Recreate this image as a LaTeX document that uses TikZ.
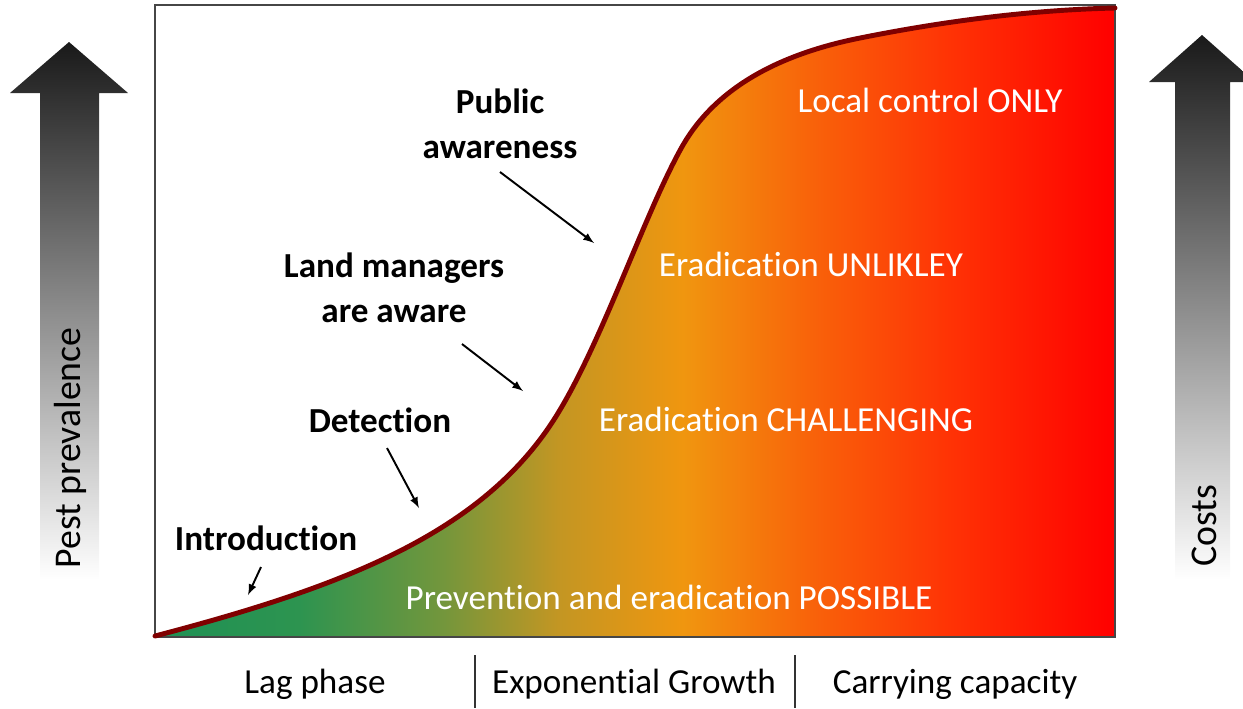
\documentclass[tikz,border=0pt]{standalone}
\usepackage{fontspec}
\setmainfont{Carlito}[Ligatures=NoCommon]
\usepackage{tikz}

\definecolor{curvered}{RGB}{128,0,0}
\definecolor{frame}{RGB}{70,70,70}
\definecolor{gradA}{RGB}{30,145,85}
\definecolor{gradB}{RGB}{45,148,80}
\definecolor{gradC}{RGB}{115,150,60}
\definecolor{gradD}{RGB}{195,150,35}
\definecolor{gradE}{RGB}{240,150,15}
\definecolor{gradF}{RGB}{248,100,10}
\definecolor{gradG}{RGB}{255,50,5}
\definecolor{gradH}{RGB}{255,0,0}
\pgfdeclarehorizontalshading{pestgrad}{100bp}{color(0bp)=(gradA); color(25bp)=(gradA); color(32.5bp)=(gradB); color(40bp)=(gradC); color(46bp)=(gradD); color(52.5bp)=(gradE); color(59bp)=(gradF); color(66.5bp)=(gradG); color(75bp)=(gradH); color(100bp)=(gradH)}

\begin{document}
\begin{tikzpicture}[x=0.02cm, y=0.02cm]
        \tikzstyle{every node}+=[inner sep=0pt, font=\fontsize{20}{25.5}\selectfont]
        \tikzstyle{cue}=[font=\bfseries\fontsize{20}{25.5}\selectfont, align=center]
        \tikzstyle{zone}=[white]
        \tikzstyle{side}=[rotate=90, font=\fontsize{21.5}{26}\selectfont]
        \tikzstyle{pointer}=[black, line width=1.1pt, -latex]
        \useasboundingbox (0,0) rectangle (1243,-708);
        \clip (0,0) rectangle (1243,-708);
        % fading arrows at the sides
        \shade [top color=black!90, bottom color=white] (40,-93) -- (10,-93) -- (69,-42) -- (128,-93) -- (99,-93) -- (99,-580) -- (40,-580) -- cycle;
        \shade [top color=black!90, bottom color=white] (1175,-82) -- (1149,-82) -- (1202,-35) -- (1255,-82) -- (1230,-82) -- (1230,-580) -- (1175,-580) -- cycle;
        \node [side] (prevalence) at (70,-448) {Pest prevalence};
        \node [side] (costs) at (1204,-526) {Costs};
        % area under the growth curve
        \shade [shading=pestgrad] (155,-636) .. controls (330,-590) and (470,-540) .. (547,-430)
                .. controls (597,-359) and (643,-215) .. (683,-145)
                .. controls (715,-90) and (775,-55) .. (860,-38)
                .. controls (945,-21) and (1030,-10) .. (1115,-8) -- (1115,-637) -- (155,-637) -- cycle;
        \draw [frame, line width=0.8pt] (155,-5) rectangle (1115,-637);
        \draw [curvered, line width=2.8pt, line cap=round] (155,-636) .. controls (330,-590) and (470,-540) .. (547,-430)
                .. controls (597,-359) and (643,-215) .. (683,-145)
                .. controls (715,-90) and (775,-55) .. (860,-38)
                .. controls (945,-21) and (1030,-10) .. (1115,-8);
        % stages
        \node [cue] (public) at (500,-124) {Public\\awareness};
        \node [cue] (managers) at (394,-288) {Land managers\\are aware};
        \node [cue] (detection) at (380,-420) {Detection};
        \node [cue] (intro) at (266,-538) {Introduction};
        \coordinate (pubTail) at (500,-172);
        \coordinate (pubHead) at (594,-243);
        \coordinate (landTail) at (462,-344);
        \coordinate (landHead) at (523,-391);
        \coordinate (detTail) at (387,-448);
        \coordinate (detHead) at (419,-508);
        \coordinate (introTail) at (261,-567);
        \coordinate (introHead) at (248,-595);
        \draw [pointer] (pubTail) -- (pubHead);
        \draw [pointer] (landTail) -- (landHead);
        \draw [pointer] (detTail) -- (detHead);
        \draw [pointer] (introTail) -- (introHead);
        % options inside the curve
        \node [zone] (local) at (930,-100) {Local control ONLY};
        \node [zone] (unlikely) at (811,-264) {Eradication UNLIKLEY};
        \node [zone] (challenging) at (786,-419) {Eradication CHALLENGING};
        \node [zone] (possible) at (669,-597) {Prevention and eradication POSSIBLE};
        % phases
        \node (lag) at (315,-684) {Lag phase};
        \node (exponential) at (634,-684) {Exponential Growth};
        \node (carrying) at (955,-684) {Carrying capacity};
        \draw [black!80, line width=0.6pt] (475,-655) -- (475,-708);
        \draw [black!80, line width=0.6pt] (795,-655) -- (795,-708);
\end{tikzpicture}
\end{document}
